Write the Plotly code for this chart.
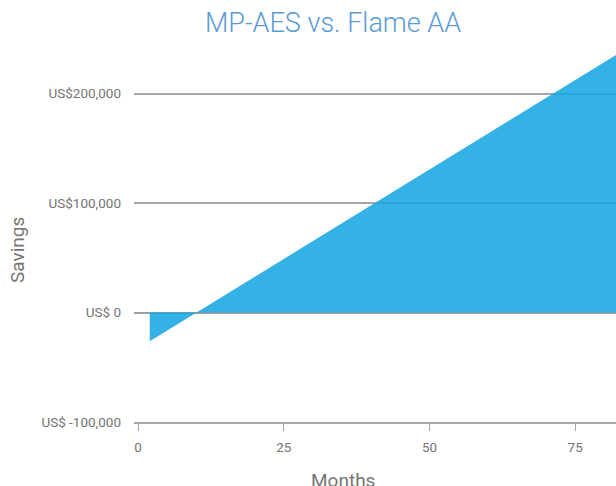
import plotly.graph_objects as go

months = [2, 84]
savings = [-26200, 242000]

y_tickvals = [-100000, 0, 100000, 200000]
y_ticktext = ["US$ -100,000", "US$ 0", "US$100,000", "US$200,000"]
x_tickvals = [0, 25, 50, 75]

fig = go.Figure()
fig.add_trace(go.Scatter(
    x=months, y=savings, mode="lines", fill="tozeroy",
    fillcolor="rgba(17,164,226,0.85)", line=dict(width=0, color="rgba(17,164,226,0.85)"),
    hoverinfo="skip", showlegend=False,
))

fig.update_layout(
    width=616, height=486,
    margin=dict(l=134, r=0, t=50, b=64),
    paper_bgcolor="white", plot_bgcolor="white",
    font=dict(family="Roboto", color="#757575", size=13.5),
    title=dict(text="MP-AES vs. Flame AA", x=333/616, xanchor="center", y=1 - 23/486, yanchor="middle",
               font=dict(family="Roboto", size=27, color="#5b9bd5", weight=300)),
    xaxis=dict(range=[-0.7, 82.0], tickvals=x_tickvals, showgrid=False, zeroline=False,
               showline=True, linecolor="#a6a6a6", linewidth=2, ticks="outside", ticklen=7,
               tickcolor="#a6a6a6", tickwidth=1, ticklabelstandoff=5,
               tickfont=dict(size=13.5, color="#757575")),
    yaxis=dict(range=[-100000, 240000], tickvals=y_tickvals, ticktext=y_ticktext,
               showgrid=True, gridcolor="#a6a6a6", gridwidth=1.5,
               zeroline=True, zerolinecolor="#9e9e9e", zerolinewidth=2,
               showline=False, ticks="", ticklabelstandoff=12,
               tickfont=dict(size=13.5, color="#757575")),
    annotations=[
        dict(text="Months", xref="paper", yref="paper", x=(343-134)/482, y=-(467-422)/372,
             xanchor="center", yanchor="top", showarrow=False, font=dict(size=19, color="#757575")),
        dict(text="Savings", xref="paper", yref="paper", x=(17-134)/482, y=(422-250)/372,
             xanchor="center", yanchor="middle", textangle=-90, showarrow=False,
             font=dict(size=19, color="#757575")),
    ],
)

fig.write_html("out.html", config={"displayModeBar": False},
               post_script="document.body.style.margin='0';document.body.style.overflow='hidden';")
